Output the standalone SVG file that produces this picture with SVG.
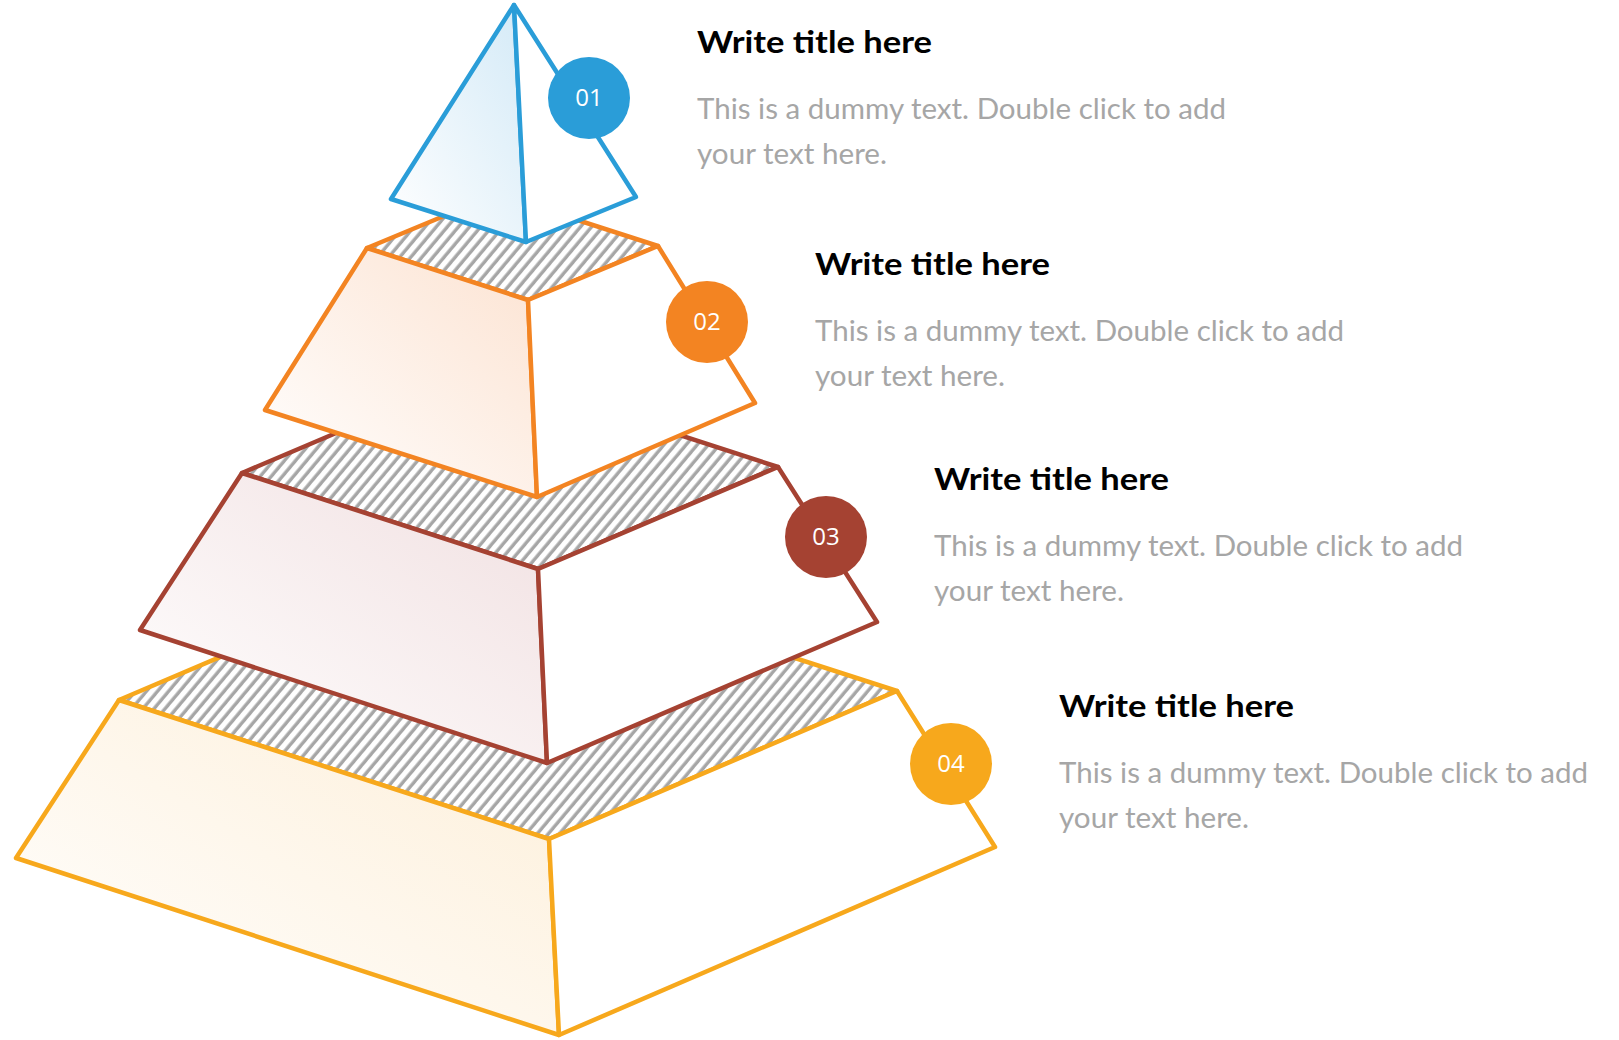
<svg xmlns="http://www.w3.org/2000/svg" width="1619" height="1040" viewBox="0 0 1619 1040">
<style>
.edge{stroke-width:4.5;stroke-linejoin:round;stroke-linecap:round}
.blue{stroke:#2a9dd8}
.orange{stroke:#f38422}
.brown{stroke:#a54232}
.yellow{stroke:#f7a81c}
.hatch{fill:url(#hatch)}
.white{fill:#ffffff}
.title{font-family:Lato,"Liberation Sans",sans-serif;font-weight:bold;font-size:30px;fill:#000000}
.body{font-family:Lato,"Liberation Sans",sans-serif;font-size:28px;fill:#a6a6a6}
.num{font-family:"Open Sans","Liberation Sans",sans-serif;font-size:24px;fill:#ffffff;text-anchor:middle}
</style>
<defs>
<pattern id="hatch" patternUnits="userSpaceOnUse" width="8.5" height="8.5" patternTransform="rotate(40)">
<rect width="8.5" height="8.5" fill="#ffffff"/>
<line x1="4" y1="-1" x2="4" y2="10" stroke="#a6a6a6" stroke-width="3.4"/>
</pattern>
<linearGradient id="gBlue" x1="1" y1="0" x2="0" y2="1">
<stop offset="0" stop-color="#d4eaf7"/>
<stop offset="1" stop-color="#ffffff"/>
</linearGradient>
<linearGradient id="gOrange" x1="1" y1="0" x2="0" y2="1">
<stop offset="0" stop-color="#fce3d2"/>
<stop offset="1" stop-color="#ffffff"/>
</linearGradient>
<linearGradient id="gBrown" x1="1" y1="0" x2="0" y2="1">
<stop offset="0" stop-color="#f1e0e1"/>
<stop offset="1" stop-color="#ffffff"/>
</linearGradient>
<linearGradient id="gYellow" x1="1" y1="0" x2="0" y2="1">
<stop offset="0" stop-color="#fdefd9"/>
<stop offset="1" stop-color="#ffffff"/>
</linearGradient>
</defs>
<rect width="1619" height="1040" fill="#ffffff"/>

<g id="tier4">
<polygon class="hatch edge yellow" points="119,700 549,839 897,691 467,552"/>
<polygon class="edge yellow" fill="url(#gYellow)" points="119,700 549,839 559,1035 16,858"/>
<polygon class="white edge yellow" points="549,839 897,691 995,847 559,1035"/>
<circle cx="951" cy="764" r="41" fill="#f7a81c"/>
<text class="num" x="951" y="772">04</text>
</g>

<g id="tier3">
<polygon class="hatch edge brown" points="242,473 538,569 778,467 482,371"/>
<polygon class="edge brown" fill="url(#gBrown)" points="242,473 538,569 547,763 140,630"/>
<polygon class="white edge brown" points="538,569 778,467 877,622 547,763"/>
<circle cx="826" cy="537" r="41" fill="#a54232"/>
<text class="num" x="826" y="545">03</text>
</g>

<g id="tier2">
<polygon class="hatch edge orange" points="367,248 528,300 658,246 497,194"/>
<polygon class="edge orange" fill="url(#gOrange)" points="367,248 528,300 537,497 265,410"/>
<polygon class="white edge orange" points="528,300 658,246 755,403 537,497"/>
<circle cx="707" cy="322" r="41" fill="#f38422"/>
<text class="num" x="707" y="330">02</text>
</g>

<g id="tier1">
<polygon class="edge blue" fill="url(#gBlue)" points="514,5 391,199 526,242"/>
<polygon class="white edge blue" points="514,5 526,242 636,197"/>
<circle cx="589" cy="98" r="41" fill="#2a9dd8"/>
<text class="num" x="589" y="106">01</text>
</g>

<g id="text1">
<text class="title" x="697" y="53" textLength="235" lengthAdjust="spacingAndGlyphs">Write title here</text>
<text class="body" x="697" y="119" textLength="529" lengthAdjust="spacingAndGlyphs">This is a dummy text. Double click to add</text>
<text class="body" x="697" y="164" textLength="190" lengthAdjust="spacingAndGlyphs">your text here.</text>
</g>
<g id="text2">
<text class="title" x="815" y="275" textLength="235" lengthAdjust="spacingAndGlyphs">Write title here</text>
<text class="body" x="815" y="341" textLength="529" lengthAdjust="spacingAndGlyphs">This is a dummy text. Double click to add</text>
<text class="body" x="815" y="386" textLength="190" lengthAdjust="spacingAndGlyphs">your text here.</text>
</g>
<g id="text3">
<text class="title" x="934" y="490" textLength="235" lengthAdjust="spacingAndGlyphs">Write title here</text>
<text class="body" x="934" y="556" textLength="529" lengthAdjust="spacingAndGlyphs">This is a dummy text. Double click to add</text>
<text class="body" x="934" y="601" textLength="190" lengthAdjust="spacingAndGlyphs">your text here.</text>
</g>
<g id="text4">
<text class="title" x="1059" y="717" textLength="235" lengthAdjust="spacingAndGlyphs">Write title here</text>
<text class="body" x="1059" y="783" textLength="529" lengthAdjust="spacingAndGlyphs">This is a dummy text. Double click to add</text>
<text class="body" x="1059" y="828" textLength="190" lengthAdjust="spacingAndGlyphs">your text here.</text>
</g>
</svg>
